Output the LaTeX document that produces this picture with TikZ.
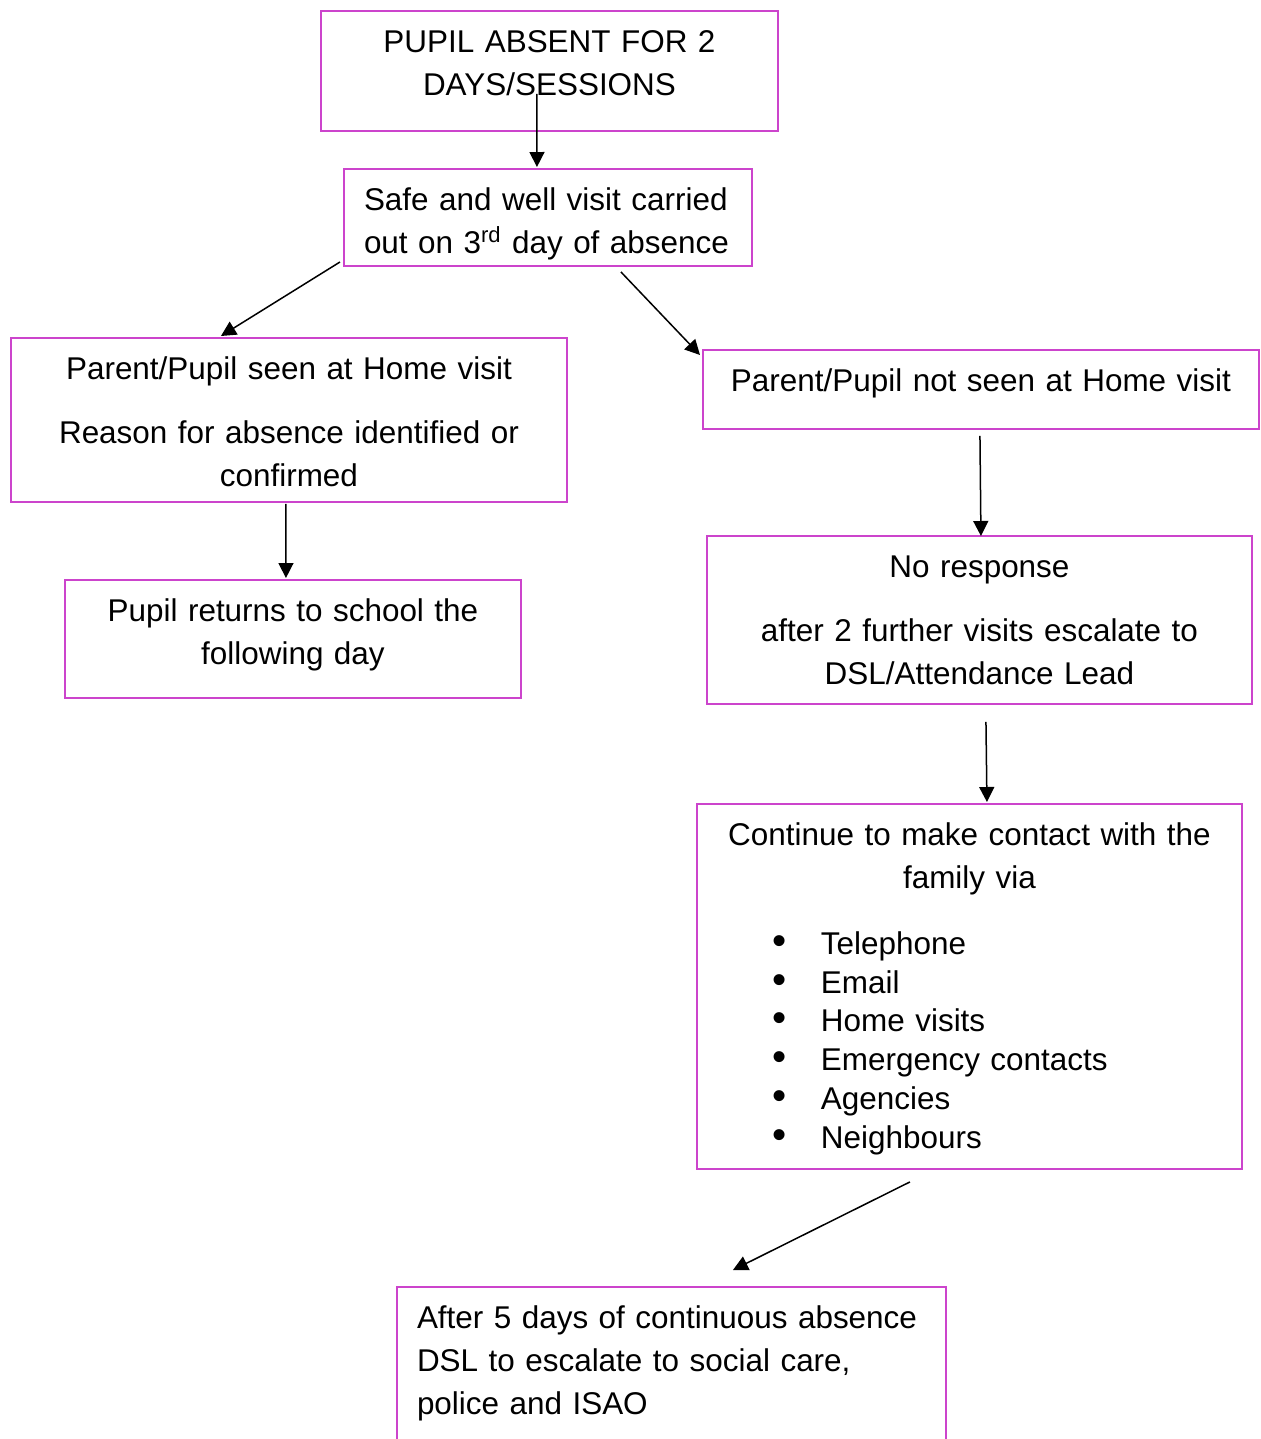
\documentclass[tikz,border=0pt]{standalone}
\usepackage{fontspec}
\setmainfont{Liberation Sans}
\usepackage{tikz}
\usetikzlibrary{arrows.meta}

\definecolor{boxmag}{RGB}{204,68,204}
\newcommand{\itm}[1]{\makebox[\linewidth][l]{\makebox[2.28cm][l]{\hspace*{1.32cm}{\fontsize{23}{23}\selectfont\textbullet}}#1}}
\hyphenpenalty=10000

\begin{document}
\begin{tikzpicture}[x=0.02cm, y=-0.02cm,
  font=\fontsize{17.9}{24.4}\selectfont,
  box/.style={draw=boxmag, line width=0.04cm, anchor=north west,
    inner xsep=0.2cm, inner ysep=0pt, text height=0.83cm, align=center},
  lbox/.style={box, inner xsep=0.4cm, align=left},
  arr/.style={-{Triangle[length=0.3cm,width=0.3cm]}, line width=0.03cm}]
\useasboundingbox (0,0) rectangle (1260,1439);

%% boxes, placed by their top left corner (pixels)
\node[box, text width=8.74cm, text depth=1.57cm] (top) at (320,10)
  {PUPIL ABSENT FOR 2\\ DAYS/SESSIONS};
\node[lbox, text width=7.36cm, text depth=1.11cm] (safe) at (343,168)
  {Safe and well visit carried\\ out on 3\textsuperscript{rd} day of absence};
\node[box, text width=10.72cm, text depth=2.45cm] (seen) at (10,337)
  {Parent/Pupil seen at Home visit\\[0.42cm] Reason for absence identified or\\ confirmed};
\node[box, text width=8.72cm, text depth=1.53cm] (back) at (64,579)
  {Pupil returns to school the\\ following day};
\node[box, text width=10.72cm, text depth=0.75cm] (notseen) at (702,349)
  {Parent/Pupil not seen at Home visit};
\node[box, text width=10.5cm, text depth=2.53cm] (noresp) at (706,535)
  {No response\\[0.42cm] after 2 further visits escalate to\\ DSL/Attendance Lead};
\node[box, text width=10.5cm, text depth=6.47cm] (contact) at (696,803)
  {Continue to make contact with the\\ family via\\[0.46cm]
   \itm{Telephone}\\[-0.08cm]
   \itm{Email}\\[-0.08cm]
   \itm{Home visits}\\[-0.08cm]
   \itm{Emergency contacts}\\[-0.08cm]
   \itm{Agencies}\\[-0.08cm]
   \itm{Neighbours}};
\node[lbox, text width=10.18cm, text depth=3.2cm] (after) at (396,1286)
  {After 5 days of continuous absence\\ DSL to escalate to social care,\\ police and ISAO};

%% arrows
\draw[arr] ([shift={(-12.5,-38)}]top.south) -- ([shift={(-11,-1)}]safe.north);
\draw[arr] ([shift={(-3,-5)}]safe.south west) -- ([shift={(-68,-1)}]seen.north);
\draw[arr] ([shift={(73,5)}]safe.south) -- ([shift={(-2,6)}]notseen.north west);
\draw[arr] ([shift={(-3,1)}]seen.south) -- ([shift={(-7,-1)}]back.north);
\draw[arr] ([shift={(-1,6)}]notseen.south) -- ([shift={(1.5,1)}]noresp.north);
\draw[arr] ([shift={(6.5,17)}]noresp.south) -- ([shift={(17.5,-1)}]contact.north);
\draw[arr] ([shift={(-59.5,12)}]contact.south) -- ([shift={(61.5,-16)}]after.north);
\end{tikzpicture}
\end{document}
